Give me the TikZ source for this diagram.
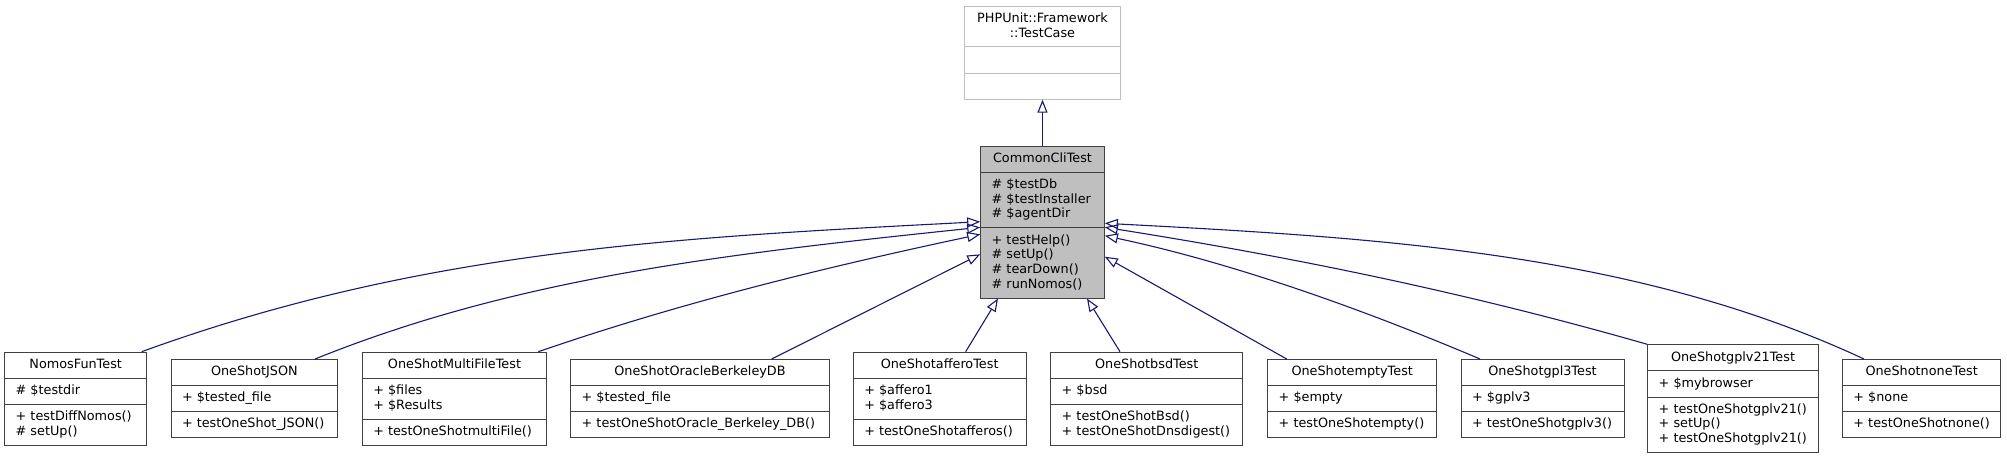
\documentclass[tikz,border=0pt]{standalone}
\usepackage{fontspec}
\setmainfont{DejaVu Sans}
\usetikzlibrary{shapes.multipart,arrows.meta}
\definecolor{edgeblue}{HTML}{191970}
\newcommand{\ls}{\rule[-2.1pt]{0pt}{7.35pt}}

\begin{document}
\begin{tikzpicture} [
      x = 0.5pt, y = 0.5pt,
      umlclass/.style = { draw = black!75, line width = 0.5pt, fill = white,
        rectangle split, rectangle split parts = 3,
        rectangle split part align = {center, left, left},
        align = left, anchor = north, inner xsep = 5.5pt, inner ysep = 2.6pt,
        font = \fontsize{6.4}{7.35}\selectfont },
      inherit/.style = { edgeblue, line width = 0.55pt,
        -{Triangle[open, length = 6.5pt, width = 5pt]} }
      ]

      \useasboundingbox (0,0) rectangle (2007,456);

      \node [umlclass, draw = black!25, align = center, minimum width = 78.2pt] (testcase) at (1042.5,450.3)
        {\ls PHPUnit::Framework\\\ls ::TestCase \nodepart{two}\ls \nodepart{three}\ls};
      \node [umlclass, fill = black!25, minimum width = 61.8pt] (common) at (1042.5,310.3)
        {\ls CommonCliTest
         \nodepart{two}\ls\# \$testDb\\\ls\# \$testInstaller\\\ls\# \$agentDir
         \nodepart{three}\ls+ testHelp()\\\ls\# setUp()\\\ls\# tearDown()\\\ls\# runNomos()};

      \node [umlclass, minimum width = 71pt] (nomos) at (75.7,104.3)
        {\ls NomosFunTest \nodepart{two}\ls\# \$testdir
         \nodepart{three}\ls+ testDiffNomos()\\\ls\# setUp()};
      \node [umlclass, minimum width = 83.35pt] (json) at (254.35,97)
        {\ls OneShotJSON \nodepart{two}\ls+ \$tested\_file
         \nodepart{three}\ls+ testOneShot\_JSON()};
      \node [umlclass, minimum width = 92.2pt] (multi) at (454.5,104.3)
        {\ls OneShotMultiFileTest \nodepart{two}\ls+ \$files\\\ls+ \$Results
         \nodepart{three}\ls+ testOneShotmultiFile()};
      \node [umlclass, minimum width = 129.3pt] (oracle) at (700,97)
        {\ls OneShotOracleBerkeleyDB \nodepart{two}\ls+ \$tested\_file
         \nodepart{three}\ls+ testOneShotOracle\_Berkeley\_DB()};
      \node [umlclass, minimum width = 86.35pt] (affero) at (939.65,104.3)
        {\ls OneShotafferoTest \nodepart{two}\ls+ \$affero1\\\ls+ \$affero3
         \nodepart{three}\ls+ testOneShotafferos()};
      \node [umlclass, minimum width = 96pt] (bsd) at (1146.7,104.3)
        {\ls OneShotbsdTest \nodepart{two}\ls+ \$bsd
         \nodepart{three}\ls+ testOneShotBsd()\\\ls+ testOneShotDnsdigest()};
      \node [umlclass, minimum width = 84.5pt] (empty) at (1352.2,97)
        {\ls OneShotemptyTest \nodepart{two}\ls+ \$empty
         \nodepart{three}\ls+ testOneShotempty()};
      \node [umlclass, minimum width = 81.5pt] (gplthree) at (1542.5,97)
        {\ls OneShotgpl3Test \nodepart{two}\ls+ \$gplv3
         \nodepart{three}\ls+ testOneShotgplv3()};
      \node [umlclass, minimum width = 85.3pt] (gplvtwo) at (1733,111.7)
        {\ls OneShotgplv21Test \nodepart{two}\ls+ \$mybrowser
         \nodepart{three}\ls+ testOneShotgplv21()\\\ls+ setUp()\\\ls+ testOneShotgplv21()};
      \node [umlclass, minimum width = 78.35pt] (none) at (1921.65,97)
        {\ls OneShotnoneTest \nodepart{two}\ls+ \$none
         \nodepart{three}\ls+ testOneShotnone()};

      \draw [inherit] (common.north) -- (testcase.south);
      \draw [inherit] ([xshift=33pt]nomos.north) .. controls +(20:300) and +(183:300) .. ([yshift=-38pt]common.north west);
      \draw [inherit] ([xshift=30.35pt]json.north) .. controls +(22:220) and +(186:250) .. ([yshift=-40.8pt]common.north west);
      \draw [inherit] ([xshift=41.9pt]multi.north) .. controls +(19:150) and +(192:160) .. ([yshift=-44.3pt]common.north west);
      \draw [inherit] ([xshift=35.85pt]oracle.north) -- ([yshift=-54.3pt]common.north west);
      \draw [inherit] ([xshift=13pt]affero.north) -- ([xshift=-22.25pt]common.south);
      \draw [inherit] ([xshift=-13.35pt]bsd.north) -- ([xshift=22.25pt]common.south);
      \draw [inherit] ([xshift=-32.75pt]empty.north) -- ([yshift=-55.5pt]common.north east);
      \draw [inherit] ([xshift=-31.25pt]gplthree.north) .. controls +(157:130) and +(348:130) .. ([yshift=-45pt]common.north east);
      \draw [inherit] (gplvtwo.north west) .. controls +(164:180) and +(351:200) .. ([yshift=-40.8pt]common.north east);
      \draw [inherit] ([xshift=-28.85pt]none.north) .. controls +(155:250) and +(357:280) .. ([yshift=-38.8pt]common.north east);
  \end{tikzpicture}
\end{document}
